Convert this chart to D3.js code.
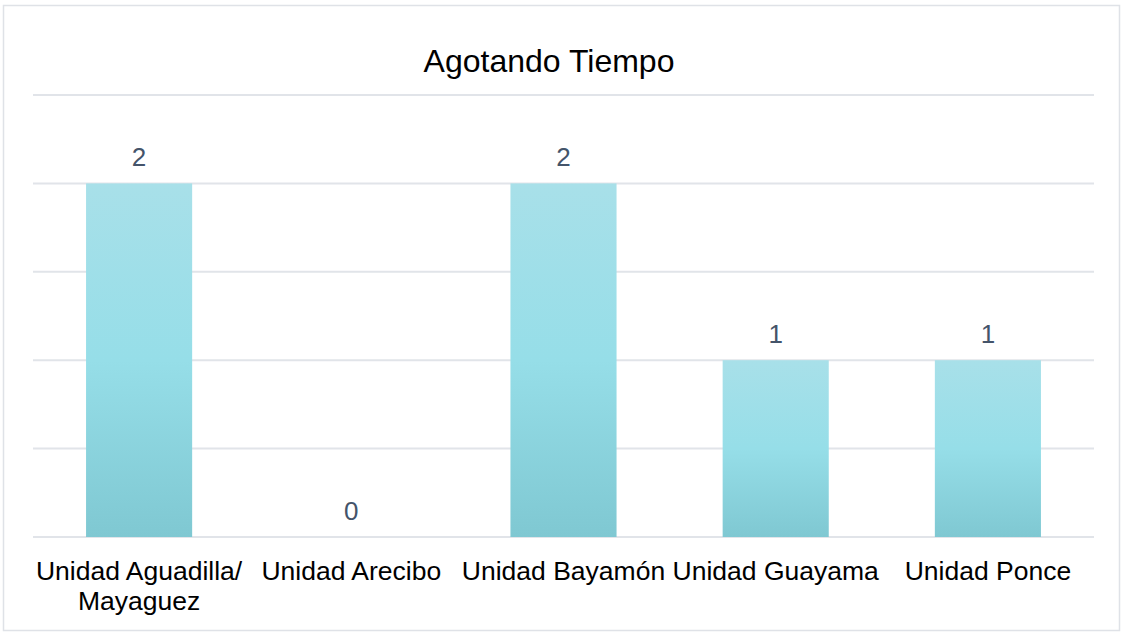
<!DOCTYPE html>
<html>
<head>
<meta charset="utf-8">
<script src="https://cdn.jsdelivr.net/npm/d3@7"></script>
<style>
  body { margin: 0; background: #fff; }
  text { font-family: "Liberation Sans", Arial, sans-serif; }
</style>
</head>
<body>
<div id="chart"></div>
<script>
const categories = [['Unidad Aguadilla/', 'Mayaguez'], ['Unidad Arecibo'], ['Unidad Bayamón'], ['Unidad Guayama'], ['Unidad Ponce']]
const values = [2, 0, 2, 1, 1]
const yTicks = [0, 0.5, 1, 1.5, 2, 2.5]
const title = 'Agotando Tiempo'

const w = 1127, h = 634
const plotLeft = 33, plotRight = 1094, plotTop = 95, plotBottom = 537

const svg = d3.select('#chart').append('svg')
    .attr('width', w)
    .attr('height', h)

// outer frame
svg.append('rect')
    .attr('x', 3.5).attr('y', 5.5)
    .attr('width', 1116).attr('height', 625)
    .attr('fill', '#fff')
    .attr('stroke', '#dfe2e7')
    .attr('stroke-width', 1.5)

let grad = svg.append('defs').append('linearGradient')
    .attr('id', 'barGrad')
    .attr('x1', 0).attr('y1', 0).attr('x2', 0).attr('y2', 1)
grad.append('stop').attr('offset', '0%').attr('stop-color', '#a8e0e9')
grad.append('stop').attr('offset', '50%').attr('stop-color', '#96dee8')
grad.append('stop').attr('offset', '100%').attr('stop-color', '#7fc8d2')

let x = d3.scaleBand()
    .domain(d3.range(categories.length))
    .range([plotLeft, plotRight])
    .paddingInner(0.5)
    .paddingOuter(0.25)

let y = d3.scaleLinear()
    .domain([0, 2.5])
    .range([plotBottom, plotTop])

// gridlines
svg.append('g').selectAll('line')
    .data(yTicks)
    .enter()
    .append('line')
    .attr('x1', plotLeft).attr('x2', plotRight)
    .attr('y1', d => y(d)).attr('y2', d => y(d))
    .attr('stroke', '#e1e4e9')
    .attr('stroke-width', 2)

svg.append('g').selectAll('rect')
    .data(values)
    .enter()
    .append('rect')
    .attr('x', (d, i) => x(i))
    .attr('y', d => y(d))
    .attr('width', x.bandwidth())
    .attr('height', d => y(0) - y(d))
    .attr('fill', 'url(#barGrad)')

// value labels
svg.append('g').selectAll('text')
    .data(values)
    .enter()
    .append('text')
    .text(d => d)
    .attr('x', (d, i) => x(i) + x.bandwidth() / 2)
    .attr('y', d => y(d) - 17)
    .attr('text-anchor', 'middle')
    .attr('font-size', 26)
    .attr('fill', '#44546a')

// category labels
let cat = svg.append('g').selectAll('text')
    .data(categories)
    .enter()
    .append('text')
    .attr('x', (d, i) => x(i) + x.bandwidth() / 2)
    .attr('y', 580)
    .attr('text-anchor', 'middle')
    .attr('font-size', 26.5)
    .attr('fill', '#000')
cat.selectAll('tspan')
    .data((d, i) => d.map(s => ({ s, cx: x(i) + x.bandwidth() / 2 })))
    .enter()
    .append('tspan')
    .attr('x', d => d.cx)
    .attr('dy', (d, j) => j === 0 ? 0 : 30)
    .text(d => d.s)

svg.append('text')
    .text(title)
    .attr('x', 549)
    .attr('y', 72)
    .attr('text-anchor', 'middle')
    .attr('font-size', 32)
    .attr('fill', '#000')
</script>
</body>
</html>
